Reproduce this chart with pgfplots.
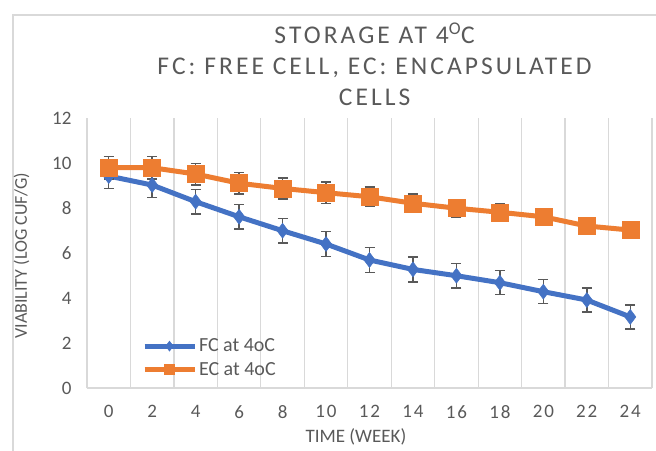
\documentclass[border=0pt]{standalone}
\usepackage{fontspec}
\setmainfont{Carlito}
\newfontfamily\titlefont[LetterSpace=12]{Carlito}
\newfontfamily\tickfont[LetterSpace=10]{Carlito}
\usepackage{pgfplots}
\usepackage{pgfplotstable}
\pgfplotsset{compat=1.18}
\definecolor{fcblue}{HTML}{4472C4}
\definecolor{ecorange}{HTML}{ED7D31}
\definecolor{txtgray}{HTML}{595959}
\definecolor{gridgray}{HTML}{D9D9D9}
\definecolor{errgray}{HTML}{595959}

\pgfplotstableread{
week fc fce ec ece
0 9.42 0.55 9.79 0.50
2 9.02 0.55 9.79 0.50
4 8.28 0.55 9.51 0.48
6 7.61 0.54 9.10 0.47
8 6.99 0.54 8.87 0.47
10 6.40 0.55 8.68 0.48
12 5.69 0.55 8.50 0.44
14 5.27 0.55 8.21 0.41
16 4.99 0.55 7.99 0.40
18 4.68 0.53 7.81 0.38
20 4.28 0.53 7.61 0.37
22 3.91 0.53 7.20 0.35
24 3.16 0.53 7.02 0.32
}\datatable

\begin{document}
\begin{tikzpicture}[x=1pt,y=1pt]
\path[use as bounding box] (0,0) rectangle (656,450);
\draw[gridgray,line width=1.5pt] (13,-5) -- (13,435) -- (660,435);
\begin{axis}[
  at={(87pt,62pt)}, anchor=south west,
  scale only axis, width=565pt, height=270pt,
  xmin=-1, xmax=25, ymin=0, ymax=12,
  xtick={0,2,...,24}, ytick={0,2,...,12},
  minor xtick={-1,1,...,25},
  xminorgrids=true, xmajorgrids=false, ymajorgrids=false,
  minor grid style={gridgray, line width=1.3pt},
  major tick length=0pt, minor tick length=0pt,
  axis x line*=bottom, axis y line*=left,
  x axis line style={draw=gridgray, line width=1.3pt, -},
  y axis line style={draw=none},
  /pgf/number format/assume math mode=true,
  tick label style={text=txtgray},
  xticklabel style={font=\tickfont\fontsize{19}{22}\selectfont, yshift=-14pt},
  yticklabel style={font=\fontsize{19}{22}\selectfont, xshift=-12pt},
  title={STORAGE AT 4\textsuperscript{O}C\\FC: FREE CELL, EC: ENCAPSULATED\\CELLS},
  title style={font=\titlefont\fontsize{25.5}{31}\selectfont, text=txtgray, align=center,
    at={(axis description cs:0.509,1.175)}, anchor=center},
  xlabel={TIME (WEEK)},
  xlabel style={font=\fontsize{19}{22}\selectfont, text=txtgray,
    at={(axis description cs:0.476,-0.181)}, anchor=center},
  ylabel={VIABILITY (LOG CUF/G)},
  ylabel style={font=\fontsize{18}{22}\selectfont, text=txtgray,
    at={(axis description cs:-0.116,0.49)}, anchor=center, rotate=0},
  legend style={at={(axis description cs:0.097,0.19)}, anchor=north west,
    draw=none, fill=none, inner sep=0pt, font=\fontsize{20}{24}\selectfont,
    text=txtgray, row sep=5pt},
  legend cell align=left,
  legend image code/.code={
    \draw[#1, mark=none] (0pt,0pt) -- (50pt,0pt);
    \draw[#1, only marks, mark size=5pt] plot coordinates {(25pt,0pt)};
  },
]
\addplot[color=fcblue, line width=5pt, mark=diamond*, mark size=7.5pt,
  mark options={fill=fcblue, draw=fcblue, line width=0.5pt},
  error bars/.cd, y dir=both, y explicit,
  error bar style={errgray, line width=1.4pt},
  error mark options={rotate=90, mark size=5pt, errgray, line width=1.4pt}]
  table[x=week, y=fc, y error=fce] {\datatable};
\addlegendentry{FC at 4oC}
\addplot[color=ecorange, line width=5pt, mark=square*, mark size=8.5pt,
  mark options={fill=ecorange, draw=ecorange, line width=0.5pt},
  error bars/.cd, y dir=both, y explicit,
  error bar style={errgray, line width=1.4pt},
  error mark options={rotate=90, mark size=5pt, errgray, line width=1.4pt}]
  table[x=week, y=ec, y error=ece] {\datatable};
\addlegendentry{EC at 4oC}
\end{axis}
\end{tikzpicture}
\end{document}
